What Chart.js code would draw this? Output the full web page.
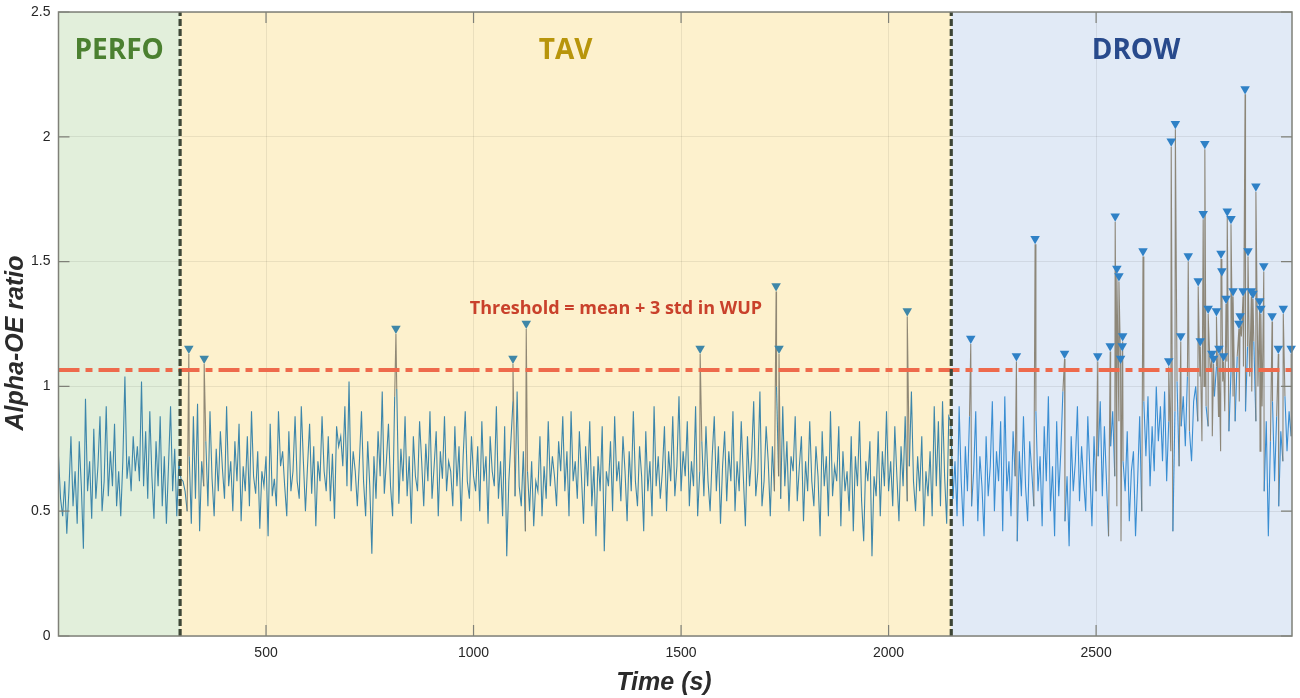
<!DOCTYPE html>
<html>
<head>
<meta charset="utf-8">
<script src="https://cdn.jsdelivr.net/npm/chart.js@4.4.1/dist/chart.umd.min.js"></script>
<style>
  body { margin: 0; background: #fff; }
  canvas { display: block; }
</style>
</head>
<body>
<canvas id="myChart" width="1300" height="698"></canvas>
<script>
'use strict';

// Alpha-OE ratio, one sample every 5 s starting at t = 0
const sampleStep = 5;

const perfoValues = [
  0.72, 0.55, 0.48, 0.62, 0.41, 0.58, 0.80, 0.52, 0.66, 0.45,
  0.78, 0.60, 0.35, 0.95, 0.58, 0.70, 0.47, 0.83, 0.55, 0.68,
  0.88, 0.50, 0.62, 0.92, 0.56, 0.74, 0.60, 0.85, 0.52, 0.66,
  0.48, 0.70, 1.04, 0.63, 0.72, 0.58, 0.80, 0.66, 0.76, 0.62,
  1.02, 0.60, 0.82, 0.55, 0.90, 0.64, 0.47, 0.78, 0.60, 0.88,
  0.52, 0.72, 0.45, 0.68, 0.92, 0.58, 0.75, 0.48, 0.70, 0.63
];

const tavValues = [
  0.62, 0.58, 0.50, 0.72, 0.45, 0.88, 0.55, 0.93, 0.42, 0.70, 0.60, 0.78, 0.52, 0.90, 0.63, 0.48, 0.75, 0.58, 0.82, 0.67,
  0.55, 0.92, 0.60, 0.70, 0.50, 0.78, 0.62, 0.85, 0.46, 0.68, 0.58, 0.80, 0.52, 0.90, 0.64, 0.57, 0.74, 0.43, 0.66, 0.60,
  0.72, 0.40, 0.85, 0.56, 0.63, 0.52, 0.90, 0.68, 0.74, 0.60, 0.48, 0.82, 0.58, 0.66, 0.88, 0.62, 0.55, 0.92, 0.70, 0.50,
  0.68, 0.85, 0.57, 0.76, 0.44, 0.70, 0.62, 0.88, 0.66, 0.58, 0.80, 0.54, 0.73, 0.47, 0.84, 0.76, 0.80, 0.68, 0.92, 0.60,
  1.02, 0.58, 0.74, 0.66, 0.52, 0.70, 0.90, 0.62, 0.48, 0.78, 0.60, 0.33, 0.72, 0.55, 0.82, 0.64, 0.98, 0.57, 0.70, 0.85,
  0.60, 0.48, 0.96, 0.99, 0.53, 0.75, 0.62, 0.88, 0.56, 0.72, 0.45, 0.80, 0.64, 0.58, 0.86, 0.70, 0.52, 0.77, 0.62, 0.90,
  0.55, 0.68, 0.82, 0.48, 0.74, 0.63, 0.88, 0.58, 0.70, 0.66, 0.52, 0.84, 0.60, 0.76, 0.46, 0.72, 0.90, 0.62, 0.55, 0.80,
  0.64, 0.58, 0.76, 0.50, 0.86, 0.62, 0.72, 0.45, 0.80, 0.66, 0.60, 0.92, 0.55, 0.70, 0.48, 0.84, 0.32, 0.62, 0.78, 0.94,
  0.56, 0.98, 0.60, 0.52, 0.74, 0.42, 0.66, 0.50, 0.70, 0.44, 0.62, 0.58, 0.80, 0.48, 0.68, 0.55, 0.86, 0.60, 0.72, 0.64,
  0.52, 0.78, 0.66, 0.88, 0.58, 0.74, 0.48, 0.90, 0.62, 0.70, 0.55, 0.82, 0.64, 0.45, 0.76, 0.60, 0.86, 0.52, 0.68, 0.40,
  0.72, 0.58, 0.84, 0.34, 0.66, 0.60, 0.78, 0.50, 0.88, 0.62, 0.70, 0.54, 0.80, 0.66, 0.46, 0.74, 0.58, 0.90, 0.62, 0.52,
  0.76, 0.64, 0.42, 0.82, 0.58, 0.70, 0.48, 0.92, 0.60, 0.72, 0.55, 0.66, 0.84, 0.50, 0.74, 0.62, 0.88, 0.56, 0.68, 0.96,
  0.58, 0.74, 0.64, 0.86, 0.52, 0.70, 0.60, 0.92, 0.48, 0.66, 0.78, 0.56, 0.84, 0.62, 0.50, 0.72, 0.88, 0.58, 0.76, 0.45,
  0.68, 0.82, 0.54, 0.74, 0.62, 0.90, 0.50, 0.70, 0.58, 0.86, 0.64, 0.44, 0.80, 0.60, 0.72, 0.94, 0.56, 0.66, 0.98, 0.52,
  0.62, 0.84, 0.70, 0.48, 0.76, 0.58, 1.00, 0.64, 0.55, 0.92, 0.60, 0.78, 0.50, 0.72, 0.66, 0.88, 0.54, 0.68, 0.80, 0.46,
  0.70, 0.58, 0.86, 0.62, 0.52, 0.76, 0.64, 0.40, 0.82, 0.60, 0.72, 0.48, 0.90, 0.56, 0.68, 0.62, 0.84, 0.44, 0.74, 0.58,
  0.66, 0.50, 0.80, 0.42, 0.72, 0.60, 0.86, 0.54, 0.38, 0.70, 0.62, 0.78, 0.32, 0.64, 0.56, 0.82, 0.48, 0.74, 0.60, 0.90,
  0.58, 0.70, 0.52, 0.84, 0.64, 0.46, 0.76, 0.60, 0.88, 0.54, 0.68, 0.98, 0.62, 0.50, 0.72, 0.58, 0.80, 0.44, 0.66, 0.56,
  0.74, 0.48, 0.92, 0.60, 0.86, 0.52, 0.94, 0.64, 0.45, 0.88
];

const drowValues = [
  0.86, 0.55, 0.70, 0.48, 0.92, 0.62, 0.44, 0.76, 0.58, 0.88, 0.52, 0.66, 0.90, 0.46, 0.72, 0.60, 0.40, 0.80, 0.56, 0.68,
  0.94, 0.50, 0.74, 0.62, 0.86, 0.42, 0.96, 0.58, 0.70, 0.48, 0.82, 0.64, 0.38, 0.74, 0.56, 0.88, 0.60, 0.46, 0.78, 0.66,
  0.52, 0.90, 0.58, 0.72, 0.44, 0.84, 0.62, 0.96, 0.50, 0.68, 0.40, 0.86, 0.56, 0.74, 0.98, 0.46, 0.64, 0.36, 0.80, 0.58,
  0.70, 0.92, 0.54, 0.76, 0.62, 0.50, 0.88, 0.66, 0.44, 0.80, 0.58, 0.72, 0.94, 0.56, 0.84, 0.62, 0.40, 0.76, 0.90, 0.64,
  0.52, 0.86, 0.38, 0.70, 0.58, 0.82, 0.46, 0.66, 0.74, 0.40, 0.62, 0.88, 0.50, 0.94, 0.72, 0.96, 0.60, 0.84, 0.66, 1.00,
  0.78, 0.92, 0.70, 0.98, 0.62, 0.86, 0.74, 0.42, 0.90, 1.02, 0.68, 0.84, 0.96, 0.76, 1.04, 0.82, 0.70, 0.94, 1.00, 0.86,
  1.04, 0.78, 1.00, 0.92, 0.84, 1.06, 0.80, 0.96, 1.08, 0.88, 0.74, 1.02, 0.90, 1.10, 0.82, 1.06, 0.96, 0.86, 1.12, 0.94,
  1.20, 1.08, 0.90, 1.16, 1.04, 0.98, 1.18, 0.86, 1.00, 0.74, 0.92, 0.58, 0.86, 0.40, 0.78, 0.94, 0.62, 0.88, 0.52, 0.82,
  0.70, 0.96, 0.74, 0.90, 0.80
];

// detected peaks above the threshold (time in s, peak value)
const peakTimes = [
  314, 351, 813, 1095, 1127, 1546, 1729, 1736, 2045,
  2198, 2308, 2353, 2424, 2504, 2534, 2546, 2550, 2555, 2559,
  2563, 2564, 2613, 2675, 2681, 2691, 2704, 2722, 2746, 2751,
  2758, 2762, 2770, 2779, 2783, 2790, 2796, 2801, 2803, 2807,
  2813, 2816, 2825, 2830, 2844, 2847, 2854, 2859, 2866, 2874,
  2878, 2885, 2894, 2897, 2904, 2924, 2939, 2951, 2970
];
const peakValues = [
  1.13, 1.09, 1.21, 1.09, 1.23, 1.13, 1.38, 1.13, 1.28,
  1.17, 1.10, 1.57, 1.11, 1.10, 1.14, 1.66, 1.45, 1.42, 1.09,
  1.14, 1.18, 1.52, 1.08, 1.96, 2.03, 1.18, 1.50, 1.40, 1.16,
  1.67, 1.95, 1.29, 1.11, 1.09, 1.28, 1.13, 1.51, 1.44, 1.10,
  1.33, 1.68, 1.65, 1.36, 1.23, 1.26, 1.36, 2.17, 1.52, 1.36,
  1.35, 1.78, 1.32, 1.29, 1.46, 1.26, 1.13, 1.29, 1.13
];

const phaseNames = ['PERFO', 'TAV', 'DROW'];
const phaseBounds = [0, 293, 2151, 2972];
const threshold = 1.066;
const thresholdLabel = 'Threshold = mean + 3 std in WUP';
const xTicks = [500, 1000, 1500, 2000, 2500];
const yTicks = [0, 0.5, 1, 1.5, 2, 2.5];

// styles
const phaseFills = ['#e2efdb', '#fdf1cd', '#e1eaf6'];
const phaseInk = ['#4b8030', '#b8950b', '#284a8c'];
const phaseLabelAt = [146, 1222, 2596];
const tavLine = '#3d86aa';
const drowLine = '#3a8ed2';
const stemColor = 'rgba(132,124,108,0.9)';
const markerLift = 0.022;


let signalValues = perfoValues.concat(tavValues, drowValues);
let signalPoints = [];
for (let i = 0; i < signalValues.length; i++) {
  signalPoints.push({ x: i * sampleStep, y: signalValues[i], peak: false });
}
for (let i = 0; i < peakTimes.length; i++) {
  signalPoints.push({ x: peakTimes[i], y: peakValues[i], peak: true });
}
signalPoints.sort((a, b) => a.x - b.x);

let markerPoints = [];
for (let i = 0; i < peakTimes.length; i++) {
  markerPoints.push({ x: peakTimes[i], y: peakValues[i] + markerLift });
}

let xMin = phaseBounds[0];
let xMax = phaseBounds[phaseBounds.length - 1];

let datasets = [{
  label: 'signal',
  data: signalPoints,
  borderWidth: 1.1,
  borderColor: tavLine,
  pointRadius: 0,
  tension: 0,
  order: 5,
  segment: {
    borderColor: ctx => {
      let p0 = signalPoints[ctx.p0DataIndex];
      let p1 = signalPoints[ctx.p1DataIndex];
      if (p0.peak || p1.peak) return stemColor;
      return p0.x >= phaseBounds[2] ? drowLine : tavLine;
    }
  }
}, {
  label: 'threshold',
  data: [{ x: xMin, y: threshold }, { x: xMax, y: threshold }],
  borderColor: '#ee6a4c',
  borderWidth: 4,
  borderDash: [21, 6, 7, 6],
  pointRadius: 0,
  order: 3
}];

for (let i = 1; i < phaseBounds.length - 1; i++) {
  datasets.push({
    label: 'phase' + i,
    data: [{ x: phaseBounds[i], y: 0 }, { x: phaseBounds[i], y: 2.5 }],
    borderColor: '#3e4636',
    borderWidth: 3.2,
    borderDash: [7, 3],
    pointRadius: 0,
    order: 2
  });
}

datasets.push({
  label: 'peaks',
  data: markerPoints,
  showLine: false,
  pointStyle: 'triangle',
  rotation: 180,
  pointRadius: 5.5,
  pointBorderWidth: 0,
  pointBackgroundColor: ctx => (ctx.raw && ctx.raw.x >= phaseBounds[2]) ? '#2f81c6' : '#3f87a8',
  clip: false,
  order: 1
});


const frame = {
  id: 'frame',
  beforeDraw(chart) {
    const { ctx, chartArea, scales } = chart;
    ctx.save();
    for (let i = 0; i < phaseNames.length; i++) {
      let x0 = scales.x.getPixelForValue(phaseBounds[i]);
      let x1 = scales.x.getPixelForValue(phaseBounds[i + 1]);
      ctx.fillStyle = phaseFills[i];
      ctx.fillRect(x0, chartArea.top, x1 - x0, chartArea.bottom - chartArea.top);
    }
    ctx.restore();
  },
  afterDatasetsDraw(chart) {
    const { ctx, chartArea, scales } = chart;
    const { left, right, top, bottom } = chartArea;
    ctx.save();
    ctx.strokeStyle = '#7f8078';
    ctx.lineWidth = 1.5;
    ctx.strokeRect(left, top, right - left, bottom - top);
    ctx.beginPath();
    for (let v of xTicks) {
      let px = scales.x.getPixelForValue(v);
      ctx.moveTo(px, bottom);
      ctx.lineTo(px, bottom - 11);
      ctx.moveTo(px, top);
      ctx.lineTo(px, top + 11);
    }
    for (let v of yTicks) {
      let py = scales.y.getPixelForValue(v);
      ctx.moveTo(left, py);
      ctx.lineTo(left + 11, py);
      ctx.moveTo(right, py);
      ctx.lineTo(right - 11, py);
    }
    ctx.lineWidth = 1.2;
    ctx.stroke();
    ctx.restore();
  },
  afterDraw(chart) {
    const { ctx, scales } = chart;
    ctx.save();
    ctx.textAlign = 'center';
    ctx.textBaseline = 'middle';
    ctx.font = 'bold 28px "Open Sans"';
    for (let i = 0; i < phaseNames.length; i++) {
      ctx.fillStyle = phaseInk[i];
      ctx.fillText(phaseNames[i], scales.x.getPixelForValue(phaseLabelAt[i]), scales.y.getPixelForValue(2.345));
    }
    ctx.font = 'bold 18px "Open Sans"';
    ctx.fillStyle = '#c9412b';
    ctx.fillText(thresholdLabel, scales.x.getPixelForValue(1343), scales.y.getPixelForValue(1.31));

    ctx.fillStyle = '#2b2b2b';
    ctx.font = 'italic bold 25px "Liberation Sans"';
    ctx.fillText('Time (s)', 664, 683);
    ctx.translate(16, 343);
    ctx.rotate(-Math.PI / 2);
    ctx.fillText('Alpha-OE ratio', 0, 0);
    ctx.restore();
  }
};


const ctx = document.getElementById('myChart').getContext('2d');

let config = {
  type: 'line',
  data: { datasets: datasets },
  options: {
    responsive: false,
    animation: false,
    parsing: true,
    layout: { padding: { top: 12, right: 8, left: 0, bottom: 0 } },
    plugins: {
      legend: { display: false },
      tooltip: { enabled: false }
    },
    scales: {
      x: {
        type: 'linear',
        min: xMin,
        max: xMax,
        afterBuildTicks: axis => { axis.ticks = xTicks.map(v => ({ value: v })); },
        afterFit: axis => { axis.height = 62; },
        border: { display: false },
        grid: { color: 'rgba(0,0,0,0.075)', drawTicks: false, lineWidth: 1 },
        ticks: {
          padding: 9,
          color: '#262626',
          font: { family: '"Liberation Sans"', size: 14 },
          callback: v => String(v)
        }
      },
      y: {
        min: 0,
        max: 2.5,
        afterBuildTicks: axis => { axis.ticks = yTicks.map(v => ({ value: v })); },
        afterFit: axis => {
          axis.width = 58.5;
          axis.paddingTop = 0;
          axis.paddingBottom = 0;
        },
        border: { display: false },
        grid: { color: 'rgba(0,0,0,0.075)', drawTicks: false, lineWidth: 1 },
        ticks: {
          padding: 8,
          color: '#262626',
          font: { family: '"Liberation Sans"', size: 14, lineHeight: 0.8 },
          callback: v => String(v)
        }
      }
    }
  },
  plugins: [frame]
};

const myChart = new Chart(ctx, config);
</script>
</body>
</html>
